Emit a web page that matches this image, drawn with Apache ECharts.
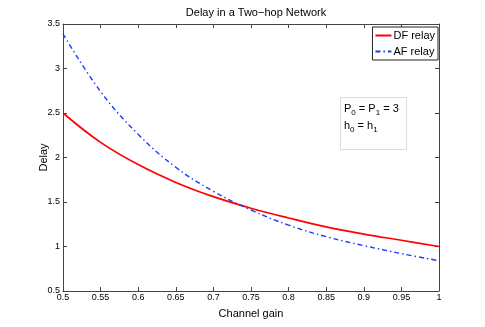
<!DOCTYPE html>
<html>
<head>
<meta charset="utf-8">
<script src="https://cdn.jsdelivr.net/npm/echarts@6/dist/echarts.min.js"></script>
<style>
  html, body { margin: 0; padding: 0; background: #fff; }
  #main { width: 485px; height: 327px; }
</style>
</head>
<body>
<div id="main"></div>
<script>
// values
var gain    = [0.50, 0.55, 0.60, 0.65, 0.70, 0.75, 0.80, 0.85, 0.90, 0.95, 1.00];
var dfDelay = [2.50, 2.17, 1.92, 1.72, 1.56, 1.43, 1.32, 1.22, 1.14, 1.07, 1.00];
var afDelay = [3.39, 2.74, 2.26, 1.89, 1.62, 1.41, 1.24, 1.11, 1.01, 0.92, 0.84];
var xTicks  = ['0.5', '0.55', '0.6', '0.65', '0.7', '0.75', '0.8', '0.85', '0.9', '0.95', '1'];
var yTicks  = ['0.5', '1', '1.5', '2', '2.5', '3', '3.5'];

var FONT = 'Liberation Sans';
var chart = echarts.init(document.getElementById('main'));

function pairs(xs, ys) {
  return xs.map(function (x, i) { return [x, ys[i]]; });
}

var axisLine = { lineStyle: { color: '#444', width: 1 } };
var tickIn = { inside: true, length: 4, lineStyle: { color: '#444' } };

var option = {
  animation: false,
  title: {
    text: 'Delay in a Two\u2212hop Network',
    left: 251, textAlign: 'center', top: 2,
    textStyle: { fontFamily: FONT, fontSize: 11, fontWeight: 'normal', color: '#000' }
  },
  grid: { left: 63, right: 46, top: 24, bottom: 36 },
  legend: {
    right: 47, top: 27, orient: 'vertical', itemGap: 5,
    itemWidth: 16, itemHeight: 11,
    borderColor: '#222', borderWidth: 1, padding: [3, 3, 3, 2],
    backgroundColor: '#fff',
    itemStyle: { opacity: 0 },
    textStyle: { fontFamily: FONT, fontSize: 11, color: '#000', padding: [0, 0, 0, -3] },
    data: ['DF relay', 'AF relay']
  },
  xAxis: [{
    type: 'value', min: 0.5, max: 1, interval: 0.05,
    name: 'Channel gain', nameLocation: 'middle', nameGap: 17,
    nameTextStyle: { fontFamily: FONT, fontSize: 11, color: '#000' },
    axisLine: axisLine, axisTick: tickIn, splitLine: { show: false },
    axisLabel: {
      fontFamily: FONT, fontSize: 9, color: '#000', margin: 2,
      formatter: function (v) { return xTicks[Math.round((v - 0.5) / 0.05)]; }
    }
  }, {
    type: 'value', min: 0.5, max: 1, interval: 0.05, position: 'top',
    axisLine: axisLine, axisTick: tickIn, axisLabel: { show: false }, splitLine: { show: false }
  }],
  yAxis: [{
    type: 'value', min: 0.5, max: 3.5, interval: 0.5,
    name: 'Delay', nameLocation: 'middle', nameGap: 14, nameMoveOverlap: false,
    nameTextStyle: { fontFamily: FONT, fontSize: 11, color: '#000' },
    axisLine: axisLine, axisTick: tickIn, splitLine: { show: false },
    axisLabel: {
      fontFamily: FONT, fontSize: 9, color: '#000', margin: 3,
      formatter: function (v) { return yTicks[Math.round((v - 0.5) / 0.5)]; }
    }
  }, {
    type: 'value', min: 0.5, max: 3.5, interval: 0.5, position: 'right',
    axisLine: axisLine, axisTick: tickIn, axisLabel: { show: false }, splitLine: { show: false }
  }],
  series: [{
    name: 'DF relay', type: 'line', smooth: 0.4, symbol: 'none',
    data: pairs(gain, dfDelay),
    itemStyle: { color: '#ff0000' },
    lineStyle: { color: '#ff0000', width: 1.7 }
  }, {
    name: 'AF relay', type: 'line', smooth: 0.4, symbol: 'none',
    data: pairs(gain, afDelay),
    itemStyle: { color: '#1a3cff' },
    lineStyle: { color: '#1a3cff', width: 1.4, type: [5, 3, 1.5, 3] }
  }],
  graphic: [{
    type: 'rect', left: 340, top: 97,
    shape: { width: 66, height: 52 },
    style: { fill: '#fff', stroke: '#dddddd', lineWidth: 1 }
  }, {
    type: 'text', left: 344, top: 100,
    style: {
      text: 'P{s|0} = P{s|1} = 3\nh{s|0} = h{s|1}',
      fontFamily: FONT, fontSize: 11, fill: '#000', lineHeight: 17,
      rich: { s: { fontFamily: FONT, fontSize: 8, verticalAlign: 'bottom', padding: [7, 0, 0, 0] } }
    }
  }]
};

chart.setOption(option);
</script>
</body>
</html>
